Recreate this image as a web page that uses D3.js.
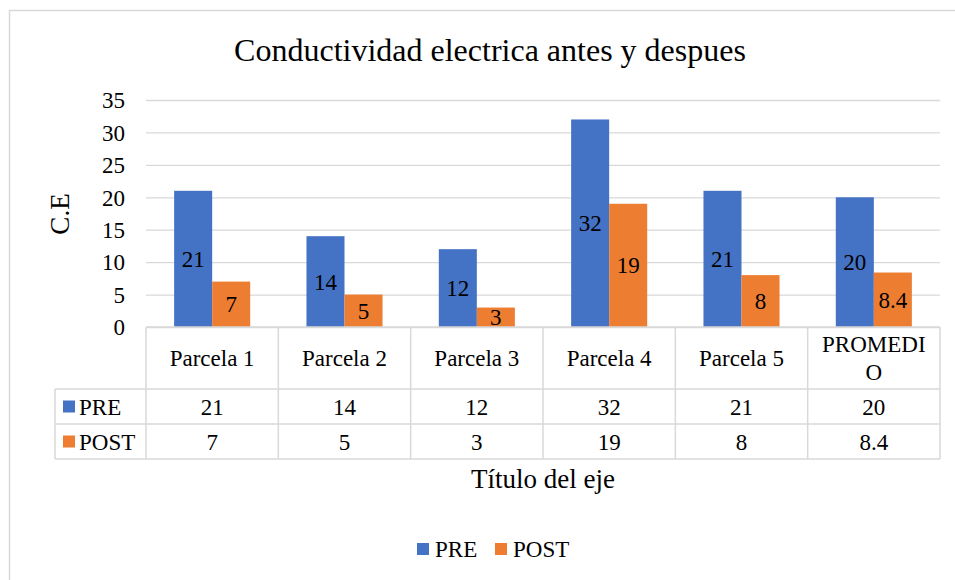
<!DOCTYPE html>
<html><head><meta charset="utf-8">
<script src="https://cdn.jsdelivr.net/npm/d3@7"></script>
<style>body{margin:0;background:#fff}svg{display:block}</style>
</head><body>
<svg id="c" width="955" height="580"></svg>
<script>
const categories = ["Parcela 1","Parcela 2","Parcela 3","Parcela 4","Parcela 5","PROMEDIO"];
const categoryLines = [["Parcela 1"],["Parcela 2"],["Parcela 3"],["Parcela 4"],["Parcela 5"],["PROMEDI","O"]];
const seriesNames = ["PRE","POST"];
const pre = [21,14,12,32,21,20];
const post = [7,5,3,19,8,8.4];
const yTicks = [0,5,10,15,20,25,30,35];
const colors = ["#4472C4","#ED7D31"];
const series = [pre, post];

const FONT = "Liberation Serif";
const svg = d3.select("#c").attr("font-family",FONT);
const grid = "#d9d9d9";
// outer frame
svg.append("rect").attr("x",9.5).attr("y",10.5).attr("width",960).attr("height",600)
  .attr("fill","none").attr("stroke",grid).attr("stroke-width",1.5);

const L = 146, R = 940, T = 100, B = 327;
const x = d3.scaleBand().domain(categories).range([L,R]).paddingInner(0).paddingOuter(0);
const y = d3.scaleLinear().domain([0,35]).range([B,T]);
const inner = d3.scaleBand().domain(seriesNames).range([0,x.bandwidth()]).paddingInner(0).paddingOuter(0.74);

// title
svg.append("text").attr("x",490).attr("y",61).attr("text-anchor","middle")
  .attr("font-size",32).attr("font-family",FONT).text("Conductividad electrica antes y despues");

// grid
const yAxis = d3.axisLeft(y).tickValues(yTicks).tickSize(-(R-L)).tickPadding(21);
const ga = svg.append("g").attr("transform",`translate(${L},0)`).call(yAxis).attr("font-family",FONT);
ga.select(".domain").remove();
ga.selectAll(".tick line").attr("stroke",grid).attr("stroke-width",1.3);
ga.selectAll(".tick text").attr("font-size",23).attr("font-family",FONT).attr("fill","#000").attr("dy","0.34em");

// axis title
svg.append("text").attr("transform","translate(69,214) rotate(-90)").attr("text-anchor","middle")
  .attr("font-size",27).attr("font-family",FONT).text("C.E");

// bars
seriesNames.forEach((s,si)=>{
  const g = svg.append("g");
  g.selectAll("rect").data(series[si]).join("rect")
    .attr("x",(d,i)=>x(categories[i])+inner(s))
    .attr("width",inner.bandwidth())
    .attr("y",d=>y(d)).attr("height",d=>B-y(d))
    .attr("fill",colors[si]);
  g.selectAll("text").data(series[si]).join("text")
    .attr("x",(d,i)=>x(categories[i])+inner(s)+inner.bandwidth()/2)
    .attr("y",d=>(y(d)+B)/2).attr("dy","0.35em")
    .attr("text-anchor","middle").attr("font-size",23).attr("font-family",FONT).text(d=>d);
});

// data table
const rowTop = [327,389,424,459];
const tx0 = 55;
const tg = svg.append("g").attr("stroke",grid).attr("stroke-width",1.5).attr("fill","none");
tg.append("line").attr("x1",L).attr("x2",R).attr("y1",rowTop[0]).attr("y2",rowTop[0]);
[1,2,3].forEach(r=>tg.append("line").attr("x1",tx0).attr("x2",R).attr("y1",rowTop[r]).attr("y2",rowTop[r]));
tg.append("line").attr("x1",tx0).attr("x2",tx0).attr("y1",rowTop[1]).attr("y2",rowTop[3]);
categories.concat(["_end"]).forEach((c,i)=>{
  const xx = i<categories.length ? x(c) : R;
  tg.append("line").attr("x1",xx).attr("x2",xx).attr("y1",rowTop[0]).attr("y2",rowTop[3]);
});
// header labels
categories.forEach((c,i)=>{
  const lines = categoryLines[i];
  const cx = x(c)+x.bandwidth()/2;
  const cy = (rowTop[0]+rowTop[1])/2;
  const lh = 28;
  lines.forEach((ln,j)=>{
    svg.append("text").attr("x",cx).attr("y",cy+(j-(lines.length-1)/2)*lh).attr("dy","0.35em")
      .attr("text-anchor","middle").attr("font-size",23).attr("font-family",FONT).text(ln);
  });
});
// rows
seriesNames.forEach((s,si)=>{
  const cy = (rowTop[si+1]+rowTop[si+2])/2;
  svg.append("rect").attr("x",63).attr("y",cy-6).attr("width",12).attr("height",12).attr("fill",colors[si]);
  svg.append("text").attr("x",79).attr("y",cy).attr("dy","0.35em").attr("font-size",23).attr("font-family",FONT).text(s);
  series[si].forEach((v,i)=>{
    svg.append("text").attr("x",x(categories[i])+x.bandwidth()/2).attr("y",cy).attr("dy","0.35em")
      .attr("text-anchor","middle").attr("font-size",23).attr("font-family",FONT).text(v);
  });
});

// x axis title
svg.append("text").attr("x",(L+R)/2).attr("y",488).attr("text-anchor","middle").attr("font-size",27).attr("font-family",FONT).text("Título del eje");

// legend
const leg = [{n:"PRE",x:417},{n:"POST",x:495}];
leg.forEach((d,i)=>{
  svg.append("rect").attr("x",d.x).attr("y",543).attr("width",12).attr("height",12).attr("fill",colors[i]);
  svg.append("text").attr("x",d.x+18).attr("y",557).attr("font-size",23).attr("font-family",FONT).text(d.n);
});
</script>
</body></html>
